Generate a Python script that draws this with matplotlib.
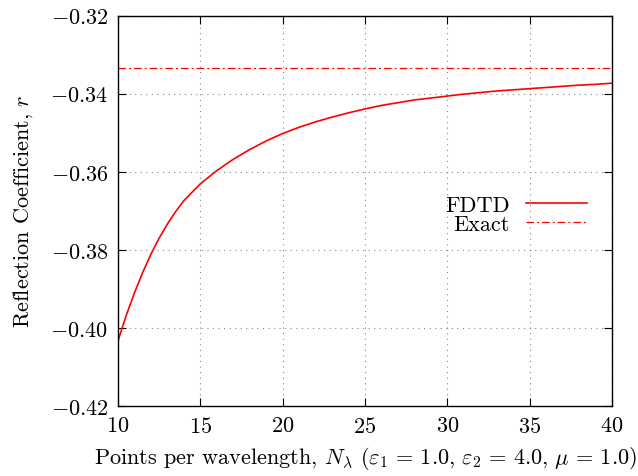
import matplotlib
matplotlib.use("Agg")
import matplotlib.pyplot as plt
from matplotlib.ticker import FuncFormatter

plt.rcParams['font.family'] = 'serif'
plt.rcParams['font.serif'] = ['cmr10']
plt.rcParams['mathtext.fontset'] = 'cm'
plt.rcParams['axes.formatter.use_mathtext'] = True

# points per wavelength and FDTD reflection coefficient
n_lambda = [10, 10.5, 11, 11.5, 12, 12.5, 13, 13.5, 14, 15, 16, 17, 18, 19,
            20, 21, 22, 23, 24, 25, 26, 27, 28, 29, 30, 31, 32, 33, 34, 35,
            36, 37, 38, 39, 40]
r_fdtd = [-0.4033, -0.3968, -0.3910, -0.3858, -0.3811, -0.3770, -0.3734,
          -0.3702, -0.3674, -0.3631, -0.3597, -0.3568, -0.3543, -0.3521,
          -0.3502, -0.3486, -0.3472, -0.3460, -0.3449, -0.3439, -0.3430,
          -0.3423, -0.3416, -0.3411, -0.3406, -0.3401, -0.3397, -0.3393,
          -0.3390, -0.3387, -0.3384, -0.3381, -0.3378, -0.3376, -0.3373]
r_exact = -1.0 / 3.0

x_ticks = [10, 15, 20, 25, 30, 35, 40]
y_ticks = [-0.42, -0.40, -0.38, -0.36, -0.34, -0.32]

fig = plt.figure(figsize=(6.38, 4.77), dpi=100)
ax = fig.add_axes([0.185, 0.147, 0.774, 0.818])

ax.plot(n_lambda, r_fdtd, color='red', lw=1.2, label='FDTD')
ax.plot([n_lambda[0], n_lambda[-1]], [r_exact, r_exact], color='red', lw=0.9,
        dashes=(6, 2.5, 1.5, 2.5), label='Exact')

ax.set_xlim(10, 40)
ax.set_ylim(-0.42, -0.32)
ax.set_xticks(x_ticks)
ax.set_yticks(y_ticks)
ax.yaxis.set_major_formatter(FuncFormatter(lambda v, p: '$%.2f$' % v))
ax.xaxis.set_major_formatter(FuncFormatter(lambda v, p: '$%d$' % v))
ax.tick_params(direction='in', top=True, right=True, length=6, width=0.8,
               labelsize=16, pad=7)
ax.grid(True, color='#888888', linestyle=(0, (1, 4)), lw=0.8)
for s in ax.spines.values():
    s.set_linewidth(1.0)

ax.set_xlabel(r'Points per wavelength, $N_\lambda$ ($\varepsilon_1 \,=\, 1.0$, '
              r'$\varepsilon_2 \,=\, 4.0$, $\mu \,=\, 1.0$)', fontsize=16,
              labelpad=6)
ax.set_ylabel(r'Reflection Coefficient, $r$', fontsize=16, labelpad=11)

ax.legend(loc='center right', bbox_to_anchor=(0.949, 0.49), frameon=False,
          markerfirst=False, fontsize=16, handlelength=2.75, handletextpad=0.7,
          labelspacing=-0.04, borderaxespad=0, borderpad=0)

plt.savefig('out.png', dpi=100)
